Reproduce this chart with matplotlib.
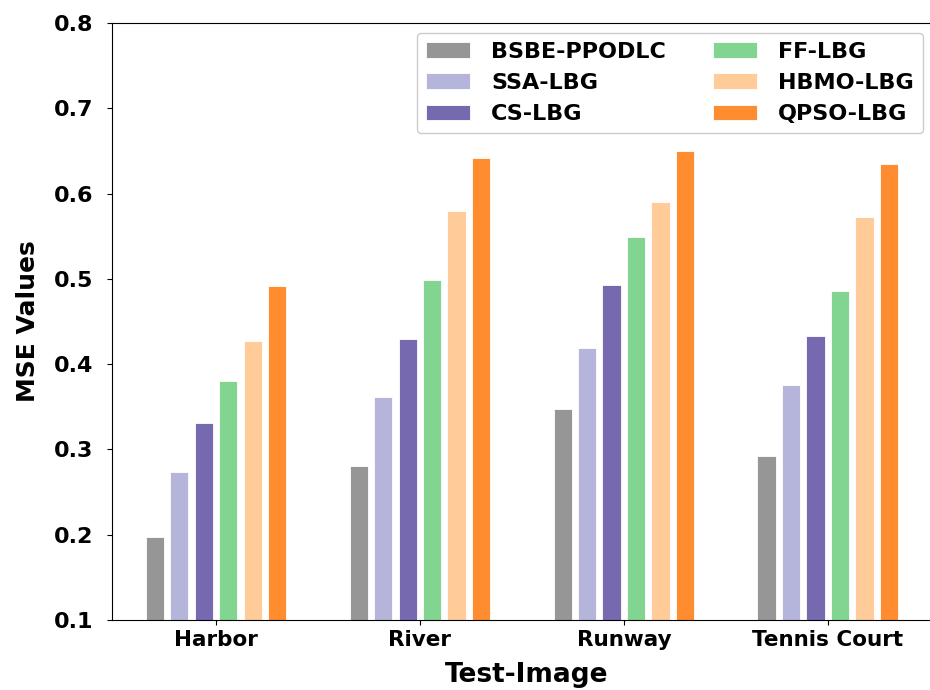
import matplotlib.pyplot as plt
import numpy as np

images = ["Harbor", "River", "Runway", "Tennis Court"]
methods = ["BSBE-PPODLC", "SSA-LBG", "CS-LBG", "FF-LBG", "HBMO-LBG", "QPSO-LBG"]
colors = ["#969696", "#b5b5db", "#7669b0", "#82d591", "#ffcc99", "#ff8c2e"]

bsbe_ppodlc = [0.197, 0.280, 0.347, 0.292]
ssa_lbg = [0.273, 0.361, 0.419, 0.376]
cs_lbg = [0.331, 0.430, 0.493, 0.433]
ff_lbg = [0.380, 0.499, 0.549, 0.486]
hbmo_lbg = [0.427, 0.580, 0.590, 0.572]
qpso_lbg = [0.492, 0.642, 0.650, 0.635]

series = [bsbe_ppodlc, ssa_lbg, cs_lbg, ff_lbg, hbmo_lbg, qpso_lbg]

fig = plt.figure(figsize=(9.3, 6.9), dpi=100)
ax = fig.add_axes([112 / 930, 70 / 690, 830 / 930, 597 / 690])

x = np.arange(len(images))
step = 0.12
for i, (vals, name, c) in enumerate(zip(series, methods, colors)):
    ax.bar(x + (i - 2.5) * step, np.array(vals) - 0.1, width=0.09, bottom=0.1,
           color=c, edgecolor="white", linewidth=0.6, label=name)

ax.set_xlim(-0.51, 3.56)
ax.set_ylim(0.1, 0.8)
ax.set_xticks(x)
ax.set_xticklabels(images, fontsize=15.5, fontweight="bold")
yt = np.arange(0.1, 0.81, 0.1)
ax.set_yticks(yt)
ax.set_yticklabels([f"{v:.1f}" for v in yt], fontsize=16, fontweight="bold")
ax.tick_params(axis="y", pad=10)
ax.set_xlabel("Test-Image", fontsize=19, fontweight="bold", labelpad=9)
ax.set_ylabel("MSE Values", fontsize=18, fontweight="bold", labelpad=10)

ax.legend(ncol=2, loc="upper right", bbox_to_anchor=(923 / 930, 1 - 33 / 690),
          bbox_transform=fig.transFigure, borderaxespad=0,
          prop={"size": 16, "weight": "bold"}, handlelength=2.0,
          handleheight=0.7, handletextpad=0.95, labelspacing=0.5,
          columnspacing=2.1, framealpha=1)

fig.savefig("out.png", dpi=100)
